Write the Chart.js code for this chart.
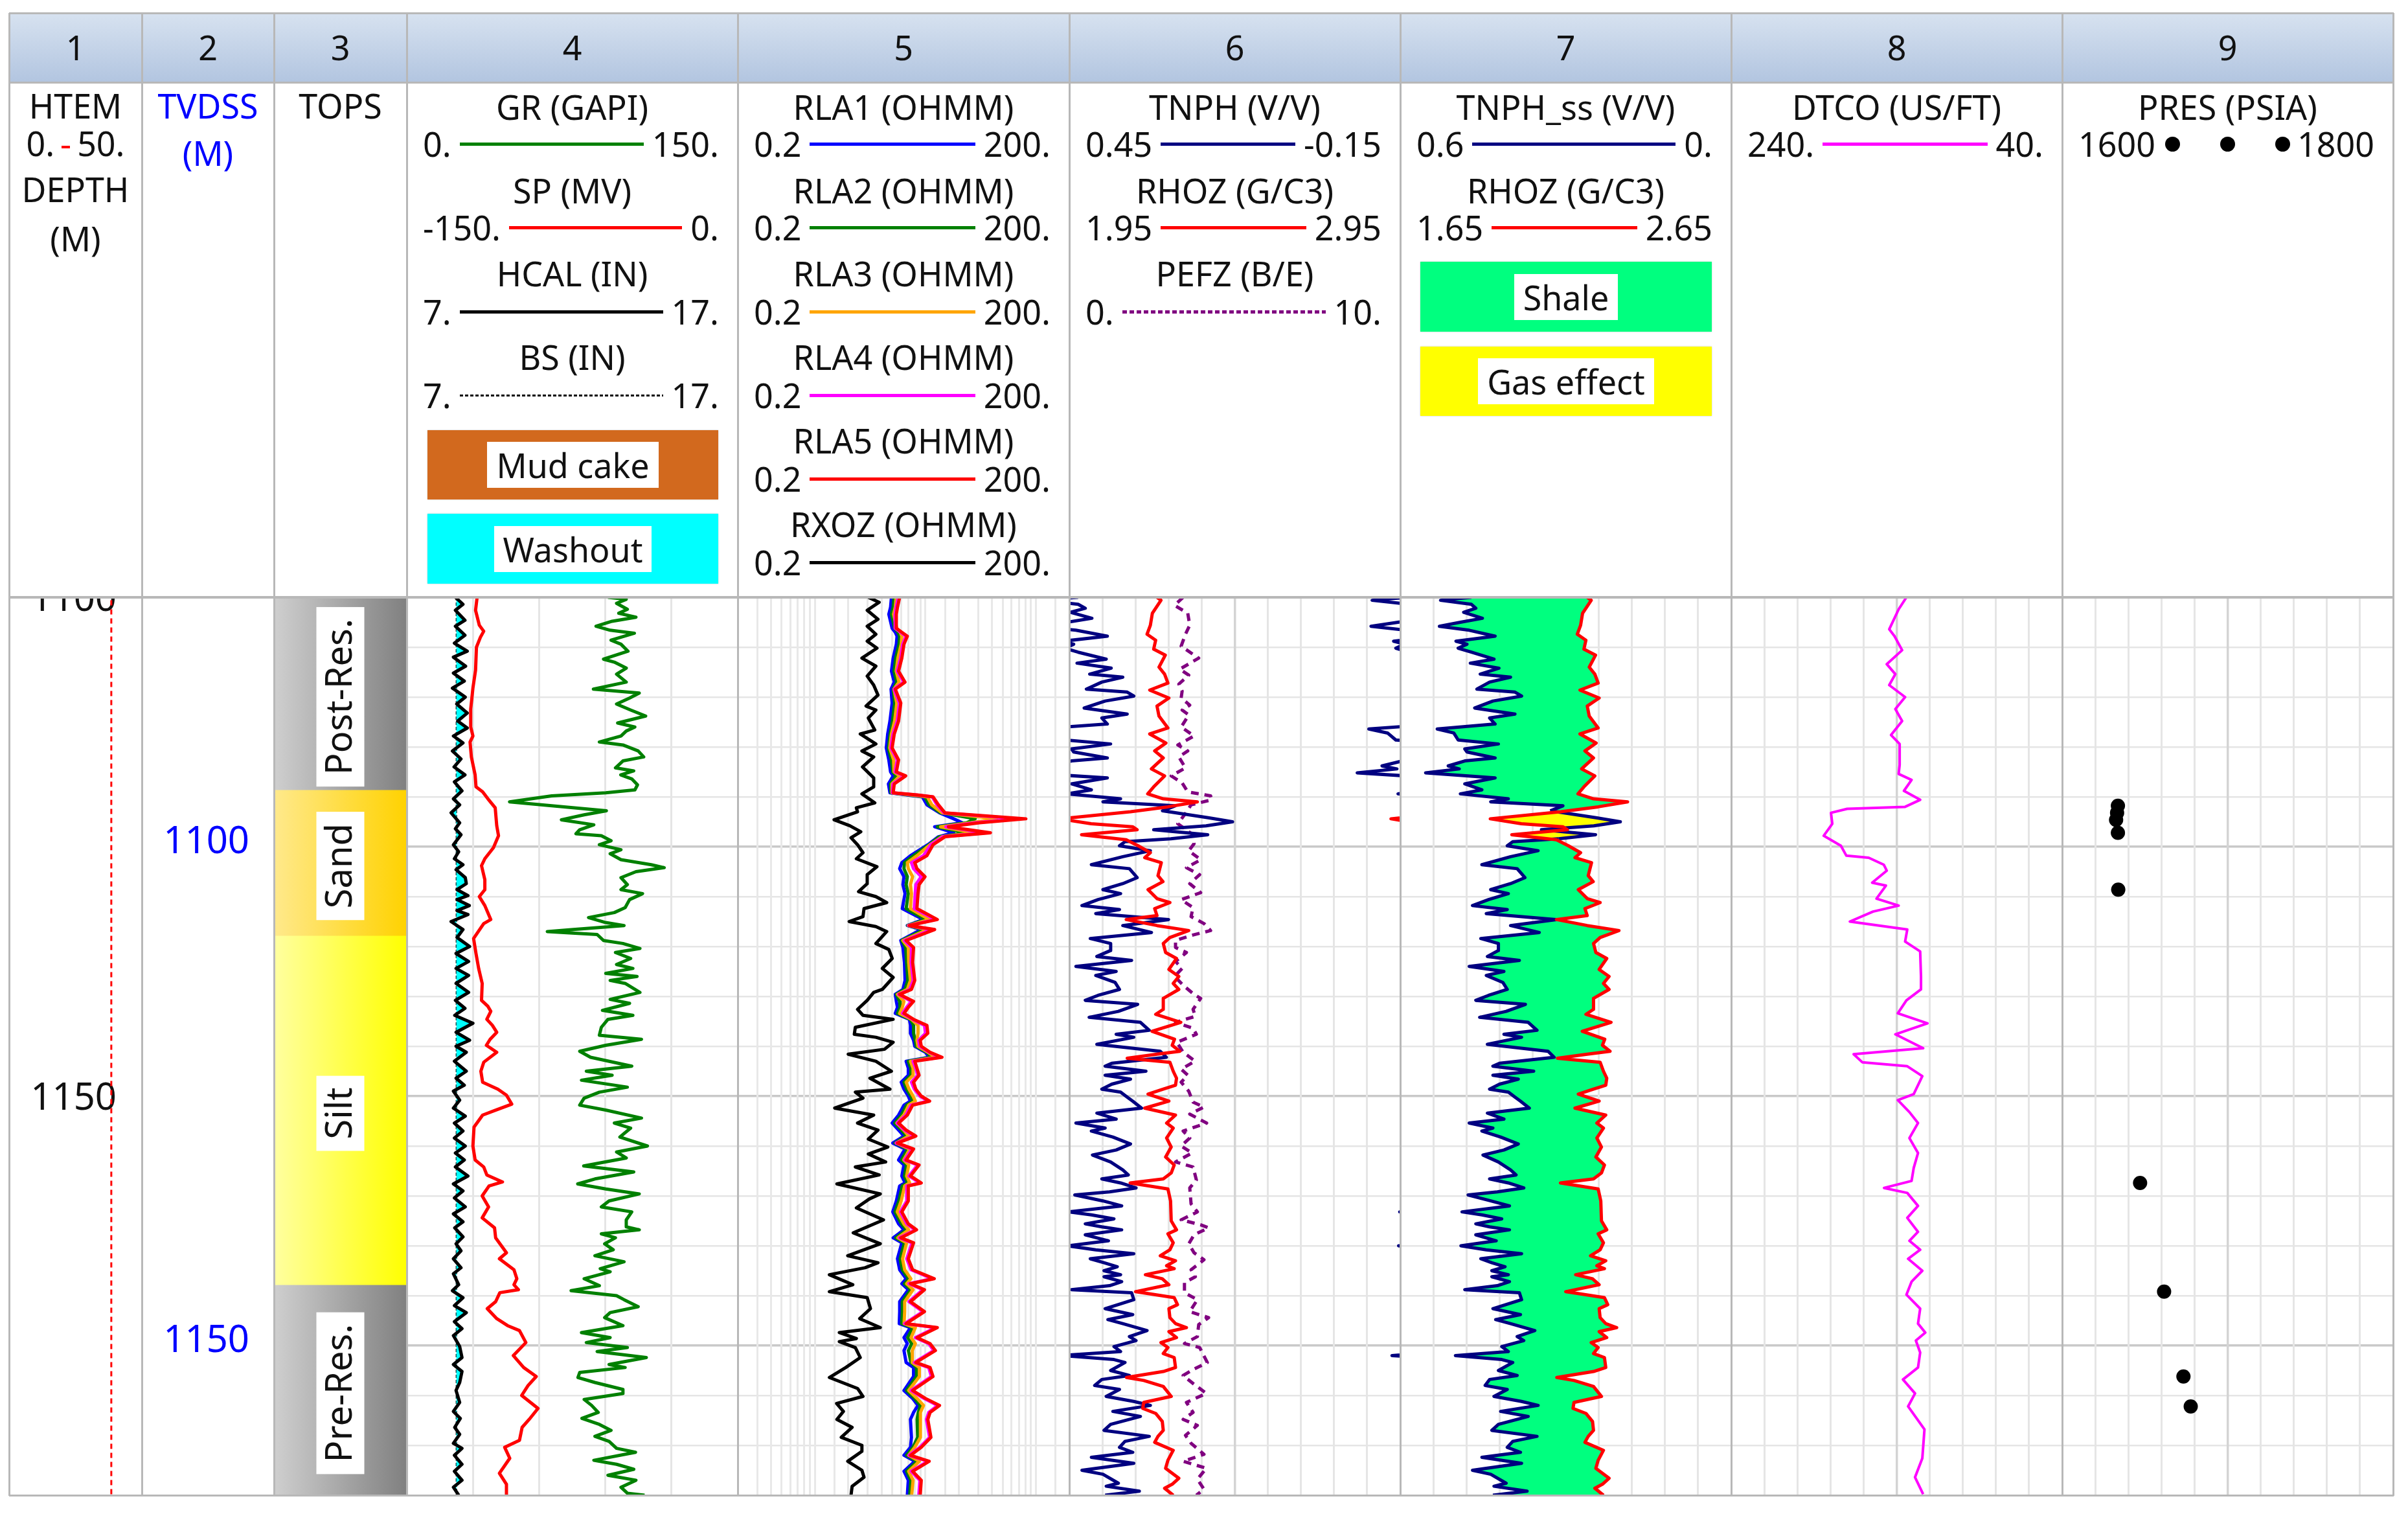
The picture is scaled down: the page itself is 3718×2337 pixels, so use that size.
<!DOCTYPE html>
<html lang="en">
<head>
<meta charset="UTF-8">
<title>Well log</title>
<script src="https://cdn.jsdelivr.net/npm/chart.js"></script>
<style>
    html, body { margin: 0; padding: 0; background: white; }
    #page { position: relative; width: 3718px; height: 2337px; overflow: hidden; background: white; font-family: "Noto Sans", sans-serif; font-size: 52px; color: #111; }
    #page canvas { position: absolute; top: 922px; }
    .band { position: absolute; top: 20px; height: 107px; left: 14px; width: 3681px; background: linear-gradient(#d7e2f0, #b2c5e0); }
    .rule { position: absolute; background: #b8b8b8; z-index: 5; }
    .num, .title, .scale, .swatch { position: absolute; z-index: 6; }
    .num { top: 38px; height: 70px; line-height: 70px; text-align: center; }
    .title { height: 70px; line-height: 70px; text-align: center; white-space: nowrap; }
    .scale { height: 70px; line-height: 70px; display: flex; align-items: center; white-space: nowrap; box-sizing: border-box; padding: 0 29px 0 25px; }
    .scale .sample { flex: 1; margin: 0 13px; }
    .scale .dots { flex: 1; margin: 0 11px 0 15px; display: flex; justify-content: space-between; }
    .scale .dots i { width: 23px; height: 23px; border-radius: 50%; background: black; }
    .swatch { display: flex; align-items: center; justify-content: center; box-shadow: 0 0 2px #c8c8c8; }
    .swatch span { background: white; height: 71px; line-height: 71px; padding: 0 14px; }
    .tick { display: inline-block; width: 13px; height: 4px; background: red; margin: 0 11px; vertical-align: middle; }
</style>
</head>
<body>
<div id="page"></div>
<script>
// curves, depth in metres then value in the unit of the legend
const grDepth = [1100,1100.2,1100.6,1101.2,1101.6,1102,1102.4,1102.9,1103.3,1103.6,1104.3,1104.7,1105.4,1106.2,1106.5,1107.1,1107.7,1108.5,1109.2,1109.6,1110.1,1110.7,1111.3,1111.9,1112.6,1113,1113.4,1113.9,1114.5,1114.8,1115.4,1116,1116.4,1117.1,1117.4,1117.8,1118.2,1118.8,1119.3,1119.6,1119.9,1120.5,1120.9,1121.4,1121.8,1122.3,1122.8,1123.3,1123.7,1123.9,1124.4,1124.8,1125.3,1125.7,1126.3,1126.8,1127.1,1127.5,1128.1,1128.8,1129.3,1129.7,1130.3,1131.1,1131.6,1132.1,1132.6,1132.9,1133.3,1133.5,1133.8,1134.4,1134.7,1135.2,1135.6,1136.2,1136.8,1137.2,1137.7,1138,1138.4,1138.7,1139.6,1140.3,1140.7,1141.4,1141.9,1142.3,1143.1,1143.9,1144.3,1144.9,1145.5,1146.1,1147,1147.5,1147.9,1148.4,1149.1,1149.6,1150.2,1150.9,1151.4,1152.2,1152.7,1153.2,1154.1,1155,1155.6,1156.2,1157,1157.6,1158.3,1158.8,1159.3,1159.8,1160.5,1161.1,1161.6,1162.4,1163.1,1163.4,1163.8,1164.2,1164.8,1165.4,1166,1166.6,1167.3,1167.6,1168.3,1169,1169.5,1170,1170.4,1171.1,1171.7,1172.2,1173,1173.7,1174.2,1174.7,1175.2,1175.6,1176.2,1176.9,1177.2,1177.7,1178.2,1178.7,1179.4,1179.8,1180.4,1181,1181.7,1182.3,1182.9,1183.5,1184.1,1184.6,1185.3,1185.7,1186.5,1186.9,1187.4,1188,1188.5,1189.2,1189.8,1190];
const grValues = [91.2,99.5,95.1,100,96.1,103.9,93.1,85.8,92.2,103.2,92.6,97.1,100.3,89.2,94.1,99.5,95.1,99.5,84.6,105.4,101,95.1,101.5,108.3,95.6,103.4,99.5,97.1,87.3,98,104.9,107.4,98,94.6,102.9,97,102,104.6,103.4,90.2,65.7,46.6,65.7,90.5,80.4,70.1,84.8,78.4,76.7,88.2,92.6,87.3,97.1,92.2,97.1,110.8,116.7,103.9,97.1,100,97.1,106.9,101,99,94.1,82.4,90.2,98.5,75.5,63.7,86.3,89.2,98,105.7,94.6,101.5,95.1,102.5,90.2,104.4,92.2,99,105.7,92.2,101,88.7,102.5,91.2,88.2,87.3,106.4,90.2,78.4,83.3,102,81.4,93.1,79.2,100,87.3,80.4,78.4,90.2,106.4,94.1,101.5,96.6,109.1,95.1,99.5,80.2,102.9,85.3,77.5,90.2,105.4,91.7,88.2,102,99.5,99.5,105.4,88.2,94.6,89.7,93.6,85.3,98.5,87.7,92.2,80.4,87.3,74.5,95.1,98.5,104.9,92.2,89.7,98,79.2,92.2,81.4,100,86.3,108.6,91.7,99,78.4,77.6,85.3,98,98,80.4,83.8,86.8,79.4,87.3,92.6,85.3,91.7,95.1,103.7,84.8,95.1,102.9,91.2,103.9,97.1,100,107.8];

const spDepth = [1100,1101.3,1102.8,1103.4,1104,1105,1107.3,1109.1,1111.2,1113,1113.9,1114.5,1116,1117.8,1119,1119.5,1120.2,1121.1,1122.9,1123.9,1125.1,1126.2,1126.9,1128.3,1129.3,1130,1130.9,1132.3,1132.7,1134.2,1135.7,1137.2,1138.7,1140.4,1141,1141.5,1142.3,1142.9,1143.6,1144.3,1144.9,1145.6,1146.6,1147.5,1148.6,1149.3,1149.9,1150.8,1151.4,1151.9,1153.1,1155,1156.4,1157.1,1157.9,1158.6,1159,1160,1161.1,1162.2,1163.2,1164.2,1165.7,1166.3,1167.4,1168.3,1168.9,1169.4,1169.7,1170.6,1171.3,1172.3,1173,1173.5,1174.7,1176,1177.2,1178.1,1179,1180,1181.3,1182.4,1183.2,1184.5,1185.2,1186.3,1187.8,1188.9,1190];
const spValues = [-118.1,-118.8,-117.1,-115.1,-116.6,-118.4,-118.8,-120,-121,-121,-120,-121.3,-120.7,-119,-118.6,-115.6,-113.2,-109.9,-109.2,-108.4,-110.7,-114.6,-116.1,-114.6,-114.6,-117.1,-114.6,-111.9,-115.1,-119.7,-118.6,-117.4,-115.8,-116.1,-113.2,-111.9,-113.7,-111.2,-109.2,-112.2,-113.9,-109.2,-115.1,-116.4,-115.6,-108.7,-104.8,-102.4,-109.7,-115.6,-119.5,-120,-119,-115.1,-113.7,-106.6,-112.7,-115.8,-112.9,-115.8,-110.2,-109.7,-104.8,-108,-101.4,-100.1,-101.4,-99.4,-107.8,-109.7,-113.5,-109.2,-104.3,-98.9,-96,-101.7,-97,-91.3,-95,-97.9,-90.5,-94.5,-97.7,-98.9,-105.6,-103.3,-108,-104.8,-104.8];

const hcalDepth = [1100,1100.7,1101.3,1102.3,1102.9,1103.8,1104.6,1105.4,1106,1106.9,1107.6,1108.4,1109.1,1110,1110.7,1111.6,1112.4,1113.1,1113.9,1114.6,1115.4,1116.2,1117,1117.8,1118.5,1119.4,1120.2,1120.8,1121.6,1122.6,1123.2,1123.8,1124.8,1125.5,1126.2,1126.8,1127.3,1128.1,1128.7,1129.3,1129.9,1130.3,1130.9,1131.4,1131.8,1132.5,1133.3,1134.1,1135,1135.7,1136.5,1137.2,1137.9,1138.7,1139.6,1140.4,1141.2,1141.9,1142.7,1143.6,1144.4,1145,1145.6,1146.5,1147.5,1148.2,1148.9,1149.5,1150.4,1151.2,1152,1152.7,1153.5,1154.2,1155,1155.7,1156.4,1157.1,1158,1158.8,1159.5,1160.2,1161.1,1161.8,1162.6,1163.2,1164.1,1164.8,1165.5,1166.3,1167.2,1167.8,1168.9,1169.5,1170.2,1171,1171.7,1172.6,1173.3,1174,1175.1,1176.2,1176.9,1177.6,1178.7,1179.5,1180.7,1181.6,1182.3,1183.2,1183.9,1184.8,1185.3,1186,1186.9,1187.6,1188.5,1189.2,1190];
const hcalValues = [8.47,8.7,8.47,8.76,8.47,8.76,8.44,8.83,8.41,8.78,8.41,8.74,8.38,8.77,8.51,8.83,8.54,8.83,8.41,8.7,8.38,8.64,8.43,8.76,8.44,8.67,8.41,8.6,8.34,8.6,8.47,8.64,8.41,8.57,8.44,8.7,8.49,8.77,8.8,8.52,8.85,8.52,8.89,8.52,8.85,8.34,8.7,8.52,8.9,8.49,8.87,8.49,8.87,8.49,8.87,8.47,8.76,8.45,9.0,8.49,8.9,8.49,8.8,8.44,8.8,8.49,8.74,8.41,8.6,8.41,8.77,8.44,8.7,8.44,8.77,8.47,8.74,8.47,8.85,8.41,8.7,8.44,8.77,8.41,8.7,8.45,8.7,8.49,8.64,8.41,8.64,8.41,8.57,8.38,8.7,8.44,8.8,8.44,8.67,8.41,8.6,8.67,8.41,8.67,8.6,8.49,8.6,8.41,8.62,8.45,8.6,8.41,8.67,8.44,8.67,8.44,8.67,8.41,8.57];

const bsDepth = [1100, 1190];
const bsValues = [8.5, 8.5];

const rlaDepth = [1100,1101,1101.7,1103.1,1103.5,1103.9,1104.7,1106.1,1107.4,1108.5,1109.2,1110.6,1112.4,1113.7,1115.1,1116.3,1117.5,1117.9,1118.7,1119.6,1119.8,1120,1120.8,1121.6,1122.2,1122.6,1123,1123.6,1124,1124.8,1125.9,1126.6,1127.2,1128,1128.8,1129.7,1131.2,1132.3,1132.9,1133.3,1134.4,1135.1,1136.6,1138.4,1139.3,1139.8,1140.5,1141.1,1141.7,1142.3,1142.9,1143.7,1144.4,1145,1145.6,1146.1,1146.5,1147.2,1147.9,1148.6,1149.3,1150,1150.5,1150.9,1151.9,1152.7,1153.4,1154,1154.7,1155.3,1156.4,1156.9,1158,1158.7,1159,1160.5,1161.6,1162.8,1163.4,1164.2,1164.7,1166.3,1167.4,1168.3,1168.8,1169.4,1170.6,1171.6,1172.8,1173.2,1174.2,1174.8,1175.5,1176.7,1177.2,1178.1,1179.5,1180.3,1181,1181.7,1182.4,1184.2,1185.2,1186,1186.6,1187.6,1188.5,1190];
const rla1Values = [4.92,4.83,4.66,4.99,5.33,5.53,5.45,5.1,4.92,5.22,4.88,4.99,4.77,4.55,4.42,4.66,4.83,5.1,4.62,4.77,6.68,9.37,10.3,13.4,18,21.5,12.1,18,13.1,10.5,7.31,6.11,5.84,6.39,6.25,6.53,6.17,9.58,6.85,9.16,5.98,6.25,6.45,6.53,6.25,5.33,5.45,5.58,5.33,7.15,7.31,7.31,7.8,8,10,10.8,6.68,6.99,6.99,6.03,6.39,6.99,7.31,6.39,5.71,4.99,5.71,6.39,5.06,6.53,5.71,6.39,6.11,6.53,5.84,5.45,5.06,5.71,6.39,5.1,6.11,5.58,5.84,6.68,6.11,6.99,5.84,5.84,5.79,7.31,6.39,6.85,6.39,6.68,7.8,7.8,6.39,7.65,8.56,7.8,7.31,7.47,7.31,6.39,8,6.39,6.99,6.85];
const rla2Values = [5.19,5.1,4.92,5.26,5.63,5.84,5.76,5.38,5.19,5.5,5.1,5.26,5.03,4.79,4.62,4.92,5.06,5.45,4.83,4.88,7.05,9.91,10.8,13.7,28.2,23.6,12.8,23.6,13.4,10.8,7.8,6.45,6.39,6.85,6.68,6.99,6.68,10.1,6.92,9.79,6.11,6.62,6.75,6.92,6.53,5.45,5.84,5.9,5.58,7.31,7.8,7.8,8.08,8.25,10.3,11.4,6.99,7.38,7.38,6.39,6.75,7.38,7.72,6.75,6.06,5.26,6.06,6.75,5.3,6.9,6.06,6.75,6.45,6.9,6.17,5.76,5.3,6.06,6.75,5.38,6.45,5.9,6.17,7.05,6.45,7.38,6.17,6.17,6.1,7.72,6.9,7.5,7,7.4,8.3,8.3,6.75,8,9,8.6,8.4,8.5,7.7,6.75,8.4,6.75,7.38,7.2];
const rla3Values = [5.43,5.33,5.15,5.5,5.9,6.11,6.03,5.63,5.43,5.76,5.19,5.5,5.26,4.92,4.75,5.15,5.19,5.84,4.97,4.97,7.38,10.4,11.4,14.1,44.2,25.8,13.7,28.2,14.1,11,8.37,6.85,6.99,7.65,7.31,7.47,7.31,10.8,6.99,10.5,6.25,6.99,7.05,7.31,6.85,5.58,6.39,6.17,5.84,7.47,8.56,8.56,8.37,8.56,10.5,12.3,7.31,7.72,7.72,6.68,7.1,7.72,8.1,7.05,6.36,5.5,6.36,7.05,5.45,7.2,6.36,7.05,6.75,7.2,6.48,6.03,5.55,6.36,7.05,5.63,6.75,6.2,6.48,7.38,6.75,7.72,6.48,6.48,6.4,8.1,7.4,8.1,7.6,7.6,8.8,8.8,7.05,8.4,9.6,9,9,9,8,7.05,8.8,7.05,7.72,7.5];
const rla4Values = [5.68,5.43,5.31,5.31,5.95,6.65,6.22,5.95,5.55,6.36,5.19,5.81,5.55,5.08,4.86,5.55,5.31,6.45,5.08,5.01,8.15,11.5,12.7,14.7,69.2,28.2,15.3,35.2,14.4,11.2,9.58,7.47,7.8,9.16,8.18,8.08,7.92,12.3,7.05,11.4,6.45,7.47,7.41,7.75,7.21,5.71,7.47,6.75,6.2,7.65,9.79,10,8.68,8.87,10.8,13.6,7.72,8.15,8.5,7.47,7.93,8.9,10.6,7.41,6.65,5.55,6.48,7.93,5.43,7.56,6.48,8.5,7.08,8.9,6.77,6.77,5.93,6.77,8.06,5.81,7.56,6.77,7.41,11.6,7.08,9.5,7.08,9.5,6.48,12.4,8.1,10.7,11.9,7.93,10.7,11.3,7.41,9.7,12.9,10.7,10.2,10.9,8.9,7.08,10.5,7.41,8.9,8.7];
const rla5Values = [5.84,5.58,5.45,5.45,6.11,6.85,6.39,6.11,5.71,6.53,5.33,5.98,5.71,5.22,4.99,5.71,5.45,6.62,5.22,5.1,8.37,11.7,13.1,15,81,30.8,16.1,38.7,15,11.7,10.3,8,8.37,9.9,8.75,8.56,8.37,12.8,7.15,12.1,6.68,7.8,7.65,8,7.47,5.84,7.8,6.99,6.39,7.8,10.3,10.5,8.96,9.16,11,14.1,8,8.37,8.75,7.8,8.18,9.16,10.9,7.65,6.85,5.71,6.68,8.18,5.58,7.8,6.68,8.75,7.31,9.16,6.99,6.99,6.11,6.99,8.3,5.98,7.8,6.99,7.65,12,7.31,9.79,7.31,9.79,6.68,12.8,8.37,11,12.3,8.18,11,11.7,7.65,10,13.4,11,10.5,11.2,9.16,7.31,10.8,7.65,9.16,8.96];

const rxozDepth = [1100,1100.5,1101.3,1102.2,1102.9,1103.7,1104.4,1105.1,1106.1,1106.9,1107.9,1108.8,1109.8,1110.9,1111.3,1112.1,1113.3,1113.7,1114.7,1115.4,1116,1117,1118.1,1119,1119.7,1120.6,1121.1,1121.5,1122.3,1122.9,1123.5,1124.1,1124.8,1125.6,1126.2,1127,1127.8,1128.7,1129.5,1130,1130.6,1131.2,1132,1132.5,1133,1133.5,1134.7,1135.3,1136.2,1137.2,1138.1,1139.3,1139.6,1140.4,1141.3,1141.9,1142.3,1143.1,1143.8,1144.1,1144.6,1145.3,1145.8,1146.5,1147.5,1148.2,1149.3,1149.6,1150.2,1151.2,1151.9,1152.7,1153.4,1154.3,1155.1,1155.8,1156.6,1157.1,1157.9,1158.8,1159.8,1160.3,1161.2,1162.4,1163.7,1164.8,1166,1166.7,1167.2,1167.9,1168.9,1169.6,1170.2,1171.3,1172.3,1173.2,1173.7,1174.3,1174.6,1175.2,1176.2,1177.2,1178.2,1179.3,1180.1,1180.8,1181.6,1182.4,1183.2,1184.2,1185,1185.6,1186.6,1187.5,1188.2,1189.1,1190];
const rxozValues = [3.04,3.81,2.97,3.72,2.97,3.56,2.97,3.64,2.66,3.56,2.97,3.4,3.72,2.9,3.56,3.04,3.48,2.57,3.56,2.66,3.4,2.69,3.4,3.4,2.66,3.48,2.37,2.43,1.49,2.07,2.6,2.12,2.43,2.72,2.37,3.64,2.97,2.97,2.48,3.56,4.46,2.78,2.72,2.04,3.56,4.46,3.56,4.66,5.0,4.07,5.1,4.07,3.4,2.97,2.43,2.72,5.1,2.32,2.27,3.56,5.1,4.26,2.0,3.56,4.92,3.14,4.77,2.32,2.72,1.51,3.4,2.43,3.72,3.04,4.56,3.04,4.36,2.32,3.81,1.58,3.9,3.11,2.37,4.17,2.22,3.9,1.98,3.72,2.84,1.35,2.2,1.35,2.97,3.18,2.54,3.9,1.66,2.37,1.66,2.32,2.57,1.9,1.35,2.43,2.72,1.57,1.81,1.58,2.17,1.73,2.66,2.66,1.98,2.66,2.78,2.17,2.12];

const neutronDepth = [1100,1100.3,1100.7,1101.1,1101.5,1102.1,1102.5,1102.9,1103.3,1103.9,1104.4,1104.7,1105.1,1105.5,1106.2,1106.6,1107.1,1107.7,1108,1108.5,1109.2,1109.5,1109.9,1110.4,1111.1,1111.7,1112.1,1112.7,1113.2,1113.6,1114.3,1114.7,1115.2,1115.5,1116.1,1116.4,1116.9,1117.2,1117.6,1118.1,1118.7,1119.3,1119.7,1120.2,1120.5,1120.9,1121.4,1122.1,1122.5,1122.9,1123.3,1123.8,1124.2,1124.5,1124.9,1125.4,1126,1126.8,1127.2,1128.1,1128.7,1129.3,1129.7,1130.3,1130.9,1131.3,1131.7,1132.3,1132.9,1133.6,1134.2,1134.7,1135.4,1136,1136.4,1137,1137.5,1137.9,1138.6,1139.3,1139.9,1140.4,1140.8,1141.5,1142.1,1142.6,1143.4,1143.8,1144.1,1144.8,1145.5,1146.1,1146.7,1147,1147.5,1147.9,1148.3,1148.8,1149.3,1149.6,1150.1,1150.5,1151.2,1151.7,1152.3,1152.7,1153.2,1153.5,1154.1,1154.8,1155.4,1155.9,1156.6,1157.4,1157.9,1158.3,1158.7,1159.2,1159.6,1159.9,1160.5,1161,1161.6,1161.9,1162.3,1162.8,1163.1,1163.4,1163.9,1164.5,1165,1165.4,1165.8,1166.3,1166.7,1167.1,1167.5,1167.9,1168.1,1168.6,1169,1169.4,1169.7,1170.4,1171.3,1171.9,1172.4,1172.8,1173.5,1174.1,1174.5,1175.1,1175.6,1176,1176.4,1176.7,1177.5,1178,1178.4,1179,1179.4,1180.1,1180.6,1181,1181.6,1182.1,1182.9,1183.5,1184.1,1184.6,1185.2,1185.7,1186.2,1186.8,1187.5,1187.9,1188.8,1189.1,1189.6,1190];
const tnphSsValues = [0.471,0.527,0.471,0.463,0.485,0.451,0.491,0.529,0.475,0.428,0.499,0.479,0.495,0.471,0.43,0.473,0.421,0.455,0.4,0.438,0.461,0.392,0.38,0.432,0.465,0.392,0.438,0.428,0.533,0.503,0.495,0.422,0.483,0.479,0.428,0.483,0.513,0.493,0.554,0.428,0.483,0.452,0.491,0.404,0.436,0.305,0.328,0.245,0.201,0.249,0.344,0.246,0.313,0.396,0.406,0.35,0.4,0.452,0.388,0.374,0.4,0.436,0.404,0.44,0.469,0.406,0.444,0.317,0.4,0.348,0.454,0.422,0.422,0.442,0.384,0.475,0.412,0.444,0.414,0.406,0.44,0.463,0.373,0.408,0.456,0.368,0.352,0.412,0.38,0.442,0.332,0.321,0.42,0.432,0.358,0.432,0.386,0.42,0.438,0.404,0.392,0.382,0.366,0.442,0.412,0.475,0.432,0.452,0.418,0.386,0.412,0.45,0.422,0.4,0.39,0.438,0.404,0.376,0.424,0.477,0.436,0.402,0.488,0.452,0.416,0.463,0.438,0.402,0.463,0.426,0.49,0.444,0.38,0.454,0.434,0.41,0.434,0.404,0.434,0.402,0.424,0.483,0.384,0.38,0.432,0.382,0.427,0.4,0.356,0.388,0.376,0.416,0.404,0.5,0.416,0.396,0.422,0.388,0.438,0.446,0.406,0.43,0.38,0.35,0.418,0.368,0.422,0.434,0.352,0.396,0.406,0.382,0.452,0.38,0.469,0.436,0.408,0.43,0.37,0.432];
const tnphValues = [0.434,0.501,0.434,0.421,0.448,0.409,0.454,0.503,0.438,0.381,0.462,0.442,0.458,0.434,0.383,0.436,0.374,0.413,0.353,0.391,0.419,0.345,0.333,0.385,0.423,0.345,0.391,0.381,0.507,0.473,0.458,0.375,0.446,0.442,0.381,0.446,0.483,0.456,0.528,0.381,0.446,0.41,0.454,0.357,0.389,0.258,0.281,0.198,0.154,0.202,0.297,0.199,0.266,0.349,0.359,0.303,0.353,0.41,0.341,0.327,0.353,0.389,0.357,0.398,0.427,0.359,0.402,0.27,0.353,0.301,0.412,0.375,0.375,0.4,0.337,0.438,0.365,0.402,0.367,0.359,0.398,0.421,0.326,0.361,0.414,0.321,0.305,0.365,0.333,0.4,0.285,0.274,0.373,0.385,0.311,0.385,0.339,0.373,0.391,0.357,0.345,0.335,0.319,0.4,0.365,0.438,0.385,0.41,0.371,0.339,0.365,0.408,0.375,0.353,0.343,0.391,0.357,0.329,0.377,0.44,0.389,0.355,0.451,0.41,0.369,0.421,0.391,0.355,0.421,0.379,0.453,0.402,0.333,0.412,0.387,0.363,0.387,0.357,0.387,0.355,0.377,0.446,0.337,0.333,0.385,0.335,0.38,0.353,0.309,0.341,0.329,0.369,0.357,0.465,0.369,0.349,0.375,0.341,0.391,0.404,0.359,0.383,0.333,0.303,0.371,0.321,0.375,0.387,0.305,0.349,0.359,0.335,0.41,0.333,0.427,0.389,0.361,0.383,0.323,0.385];

const rhozDepth = [1100,1100.3,1101.6,1102.8,1103.7,1104.3,1105.2,1105.8,1107,1107.7,1108.6,1109.3,1110.1,1110.9,1111.9,1113.1,1113.7,1114.6,1115.4,1116.1,1117.2,1117.9,1119,1119.7,1120.2,1120.5,1121,1121.5,1122.2,1122.7,1123,1123.3,1123.8,1124.3,1124.9,1125.6,1126.1,1126.6,1127.9,1128.5,1129.3,1130.2,1130.6,1131.2,1131.9,1132.3,1132.9,1133.4,1134.1,1134.7,1135.6,1136.2,1137.3,1138,1138.7,1139.3,1140.2,1141.3,1141.8,1142.6,1143.5,1144.3,1144.9,1145.5,1145.8,1146.2,1146.6,1147.5,1148.2,1148.9,1149.3,1149.8,1150.5,1151.2,1151.9,1152.7,1153.2,1154.2,1155.1,1156.1,1156.9,1157.7,1158.3,1158.7,1159.3,1160.5,1162.5,1163.4,1163.8,1164.7,1165.4,1166,1166.5,1167,1167.3,1167.9,1168.3,1168.9,1169.6,1170.2,1170.9,1171.3,1172.2,1172.8,1173.2,1173.6,1174.2,1174.7,1175.2,1175.8,1176.2,1177.2,1177.6,1178.2,1178.5,1179.1,1180.1,1180.7,1181.3,1181.8,1182.6,1183.5,1184.1,1184.7,1185.5,1186.5,1187.3,1188.3,1188.9,1189.3,1190];
const rhozValues = [2.215,2.227,2.201,2.195,2.185,2.211,2.205,2.24,2.221,2.238,2.248,2.193,2.251,2.215,2.221,2.248,2.193,2.242,2.208,2.234,2.198,2.238,2.205,2.187,2.234,2.337,2.248,2.135,1.922,2.016,2.142,2.155,1.987,2.122,2.158,2.195,2.178,2.228,2.218,2.233,2.188,2.215,2.254,2.208,2.215,2.122,2.215,2.311,2.254,2.234,2.241,2.274,2.251,2.281,2.264,2.281,2.234,2.234,2.211,2.287,2.2,2.268,2.261,2.284,2.215,2.125,2.254,2.264,2.274,2.271,2.234,2.188,2.251,2.178,2.271,2.244,2.264,2.244,2.258,2.241,2.267,2.258,2.234,2.134,2.248,2.256,2.258,2.274,2.248,2.264,2.254,2.225,2.271,2.244,2.267,2.18,2.231,2.251,2.15,2.267,2.277,2.251,2.254,2.271,2.304,2.251,2.274,2.227,2.248,2.234,2.267,2.271,2.234,2.123,2.175,2.234,2.258,2.175,2.172,2.211,2.231,2.234,2.218,2.208,2.264,2.248,2.241,2.281,2.261,2.238,2.264];

const pefzDepth = [1100,1100.8,1101.6,1102.8,1103.7,1104.9,1106.1,1107.2,1107.8,1108.7,1109.4,1110.1,1110.8,1111.3,1111.8,1113,1113.9,1114.8,1115.4,1116,1117.1,1117.9,1118.6,1119.5,1119.9,1120.3,1120.8,1121.8,1122.7,1123.8,1124.7,1125.4,1126.3,1127.1,1127.8,1128.7,1129.6,1130.3,1131.1,1132,1132.7,1133.4,1133.9,1134.4,1135.1,1135.6,1136.5,1137.2,1138,1139,1139.8,1140.2,1141.3,1142,1142.6,1143.2,1143.8,1144.6,1145.6,1146.5,1147.3,1147.9,1148.6,1149.5,1150.6,1151.1,1151.8,1152.7,1153.5,1154.2,1155,1155.7,1156.6,1157.1,1158.4,1159.2,1160.8,1161.6,1162.4,1162.9,1163.2,1163.9,1164.8,1165.7,1166.4,1167.4,1168.1,1168.7,1169.7,1170.4,1171.6,1172.2,1172.9,1174.1,1174.8,1175.2,1176.7,1177.4,1178,1178.8,1179.8,1180.7,1181.7,1182.4,1183,1184,1184.8,1185.9,1186.6,1187.3,1188.4,1189.4,1190];
const pefzValues = [3.44,3.18,3.58,3.64,3.51,3.38,3.91,3.34,3.61,3.31,3.41,3.38,3.64,3.41,3.61,3.38,3.77,3.28,3.58,3.31,3.51,3.08,3.41,3.58,4.27,4.3,3.68,3.48,3.28,3.74,3.77,3.61,3.97,3.54,3.94,3.64,3.97,3.38,3.74,3.68,4.07,4.27,3.68,3.21,3.21,3.54,3.21,3.41,3.18,3.48,3.77,3.97,3.74,3.81,3.21,3.74,3.84,3.25,3.44,3.8,3.38,3.58,3.38,3.61,3.74,4.07,3.64,4.15,3.44,3.64,3.38,3.71,3.21,3.74,3.84,3.64,3.68,3.87,3.38,3.97,4.21,3.77,3.61,3.77,4.07,3.68,3.81,3.48,3.48,3.87,3.64,4.21,3.91,3.87,3.48,3.94,4.17,3.74,3.44,3.74,4.14,3.54,3.74,3.44,3.87,3.51,3.68,4.07,3.44,4.14,3.87,4.07,3.84];

const dtcoDepth = [1100,1101.2,1103.2,1103.9,1105.3,1106.7,1107.7,1108.8,1110,1111.2,1112.4,1113.8,1114.7,1116.8,1117.7,1118.3,1119.4,1120.3,1121,1121.2,1121.6,1122.7,1123.9,1124.9,1125.9,1126.1,1126.8,1127.4,1128.6,1128.9,1130.2,1130.9,1131.5,1132.5,1133.3,1134.5,1135.5,1138,1139.3,1140.4,1141.7,1142.7,1143.8,1145.2,1145.8,1146.6,1147,1148,1149.8,1150.4,1151.6,1152.7,1154.2,1155.7,1157.2,1158.5,1159.2,1159.7,1161,1162.2,1163.6,1164.5,1165.4,1166.3,1167.5,1168.6,1169.9,1171.3,1172.8,1173.7,1174.5,1175.7,1177.2,1178.4,1179.8,1181.1,1183.4,1186.3,1188.2,1189.9];
const dtcoValues = [134.1,138.8,144.5,141.3,136.7,146,140.8,144.5,134.9,140.8,136.7,143.4,138.2,138.2,138.8,131,135.6,125.8,134.9,169.9,179.7,178.9,184.1,173.7,170.4,156.9,147.8,146,154.8,146.5,152.2,138.8,154.3,168.3,133.6,134.9,125.8,125.3,125.3,134.1,139.3,121.4,140.8,124,166,160.8,133.6,124.5,129.7,139.3,132.3,127.1,132.3,127.1,129.7,131,147.6,133.6,127.1,133.6,127.1,132.3,125.8,133.1,124.5,131,134.1,125.8,127.1,122.7,128.4,125.8,127.1,136.2,128.9,133.1,123.2,124.5,128.9,124];

const presDepth = [1120.9, 1121.6, 1122.3, 1123.6, 1129.3, 1158.7, 1169.6, 1178.1, 1181.1];
const presValues = [1633.7, 1633.2, 1632.6, 1633.7, 1633.9, 1647.1, 1661.6, 1673.3, 1677.7];

const htemDepth = [1100, 1190];
const htemValues = [38.5, 38.5];

// tops track and the crossover interval of track 7
const zoneNames = ["Post-Res.", "Sand", "Silt", "Pre-Res."];
const zoneTops = [1100, 1119.3, 1133.9, 1168.9];
const zoneBases = [1119.3, 1133.9, 1168.9, 1190];
const gasTops = [1121.4];
const gasBases = [1124.2];

const depthLabels = [1100, 1150];
const tvdssLabels = [1100, 1150];

const edges = [14, 219, 423, 628, 1139, 1651, 2162, 2673, 3184, 3695];
const TOP = 922, BOTTOM = 2308;
const FONT = '"Noto Sans", sans-serif';
const page = document.getElementById("page");

function pts(depths, values) {
    return depths.map((d, i) => ({ x: values[i], y: d }));
}

function curve(depths, values, axis, color, extra) {
    return Object.assign({
        data: pts(depths, values), xAxisID: axis, yAxisID: "y",
        borderColor: color, borderWidth: 5, pointRadius: 0,
        borderJoinStyle: "round", fill: false
    }, extra || {});
}

function depthAxis() {
    return {
        type: "linear", reverse: true, min: 1100, max: 1190,
        ticks: { display: false, stepSize: 5 }, border: { display: false },
        grid: {
            drawTicks: false,
            color: c => c.tick && c.tick.value % 25 === 0 ? "#c9c9c9" : "#e5e5e5",
            lineWidth: c => c.tick && c.tick.value % 25 === 0 ? 3.5 : 2.5
        }
    };
}

function hiddenAxis(min, max, reverse) {
    return { type: "linear", display: false, min: min, max: max, reverse: !!reverse };
}

function gridAxis(min, max, reverse, count) {
    return {
        type: "linear", min: min, max: max, reverse: !!reverse,
        ticks: { display: false, count: count || 11 }, border: { display: false },
        grid: {
            drawTicks: false,
            color: c => c.index === 5 && !count ? "#d4d4d4" : "#e5e5e5",
            lineWidth: c => c.index === 5 && !count ? 3.5 : 3
        }
    };
}

// each track is its own chart, placed between two column edges
function makeTrack(n, config) {
    const canvas = document.createElement("canvas");
    const w = edges[n] - edges[n - 1];
    canvas.width = w;
    canvas.height = BOTTOM - TOP;
    canvas.style.left = edges[n - 1] + "px";
    canvas.style.width = w + "px";
    canvas.style.height = (BOTTOM - TOP) + "px";
    page.appendChild(canvas);
    config.options = Object.assign({
        responsive: false, animation: false, devicePixelRatio: 1, indexAxis: "y",
        layout: { padding: 0, autoPadding: false },
        plugins: { legend: { display: false }, tooltip: { enabled: false }, title: { display: false } }
    }, config.options);
    return new Chart(canvas, config);
}

function labelAxis(min, max, labels, color, pad) {
    return {
        type: "linear", position: "right", reverse: true, min: min, max: max,
        afterBuildTicks: a => { a.ticks = labels.map(v => ({ value: v })); },
        ticks: { mirror: true, padding: pad, color: color, font: { family: FONT, size: 58 }, callback: v => String(v) },
        border: { display: false }, grid: { display: false, drawTicks: false }
    };
}

// track 1 HTEM and depth labels, the labels sit a touch below their depth
makeTrack(1, {
    type: "line",
    data: { datasets: [curve(htemDepth, htemValues, "xHtem", "red", { borderWidth: 3, borderDash: [8, 6] })] },
    options: { scales: { y: labelAxis(1099.7, 1189.7, depthLabels, "#111", -39), xHtem: hiddenAxis(0, 50) } }
});

// track 2 TVDSS labels, they sit a little above the heavy lines
makeTrack(2, {
    type: "line",
    data: { datasets: [] },
    options: { scales: { y: labelAxis(1075.4, 1165.4, tvdssLabels, "#0000ff", -38), x: hiddenAxis(0, 1) } }
});

// track 3 tops
const zoneLeft = ["#cfcfcf", "#ffe98c", "#ffffa0", "#cfcfcf"];
const zoneRight = ["#808080", "#ffd200", "#ffff00", "#808080"];

const zoneLabels = {
    id: "zoneLabels",
    afterDatasetsDraw(chart) {
        const c = chart.ctx, y = chart.scales.y;
        c.save();
        c.font = "56px " + FONT;
        c.textAlign = "center";
        c.textBaseline = "middle";
        zoneNames.forEach((name, i) => {
            const mid = y.getPixelForValue((zoneTops[i] + zoneBases[i]) / 2) + 5;
            const len = c.measureText(name).width + 36;
            c.save();
            c.translate(chart.width / 2, mid);
            c.rotate(-Math.PI / 2);
            c.fillStyle = "white";
            c.fillRect(-len / 2, -37, len, 74);
            c.fillStyle = "#111";
            c.fillText(name, 0, 2);
            c.restore();
        });
        c.restore();
    }
};

makeTrack(3, {
    type: "bar",
    plugins: [zoneLabels],
    data: {
        labels: ["TOPS"],
        datasets: zoneNames.map((name, i) => ({
            label: name,
            data: [[zoneTops[i], zoneBases[i]]],
            grouped: false, barPercentage: 1, categoryPercentage: 1, borderWidth: 0,
            backgroundColor: ctx => {
                const g = ctx.chart.ctx.createLinearGradient(0, 0, ctx.chart.width, 0);
                g.addColorStop(0, zoneLeft[i]);
                g.addColorStop(1, zoneRight[i]);
                return g;
            }
        }))
    },
    options: {
        indexAxis: "x",
        scales: {
            x: { type: "category", display: false },
            y: { type: "linear", display: false, reverse: true, min: 1100, max: 1190 }
        }
    }
});

// track 4 GR, SP, HCAL, BS
makeTrack(4, {
    type: "line",
    data: {
        datasets: [
            curve(grDepth, grValues, "xGr", "#008000", { order: 1 }),
            curve(spDepth, spValues, "xSp", "red", { order: 2 }),
            curve(hcalDepth, hcalValues, "xCal", "black", {
                order: 3, fill: 3, backgroundColor: "#00ffff",
                segment: { backgroundColor: c => (c.p0.parsed.x < 8.5 && c.p1.parsed.x < 8.5) ? "#d2691e" : "#00ffff" }
            }),
            curve(bsDepth, bsValues, "xCal", "black", { order: 4, borderWidth: 2, borderDash: [5, 3] })
        ]
    },
    options: { scales: { y: depthAxis(), xGr: gridAxis(0, 150, false, 6), xSp: hiddenAxis(-150, 0), xCal: hiddenAxis(7, 17) } }
});

// track 5 resistivity
makeTrack(5, {
    type: "line",
    data: {
        datasets: [
            curve(rxozDepth, rxozValues, "xRes", "black", { order: 6 }),
            curve(rlaDepth, rla1Values, "xRes", "#0000ff", { order: 5 }),
            curve(rlaDepth, rla2Values, "xRes", "#008000", { order: 4 }),
            curve(rlaDepth, rla3Values, "xRes", "#ffa500", { order: 3 }),
            curve(rlaDepth, rla4Values, "xRes", "#ff00ff", { order: 2 }),
            curve(rlaDepth, rla5Values, "xRes", "red", { order: 1 })
        ]
    },
    options: {
        scales: {
            y: depthAxis(),
            xRes: {
                type: "logarithmic", min: 0.2, max: 200,
                ticks: { display: false }, border: { display: false },
                grid: { drawTicks: false, color: "#e8e8e8", lineWidth: 3 }
            }
        }
    }
});

// track 6 wraps: a curve off the left edge comes back on the right, hence the shifted axes
makeTrack(6, {
    type: "line",
    data: {
        datasets: [
            curve(pefzDepth, pefzValues, "xPef", "#800080", { order: 3, borderDash: [12, 9] }),
            curve(neutronDepth, tnphValues, "xTnph", "#000080", { order: 2 }),
            curve(neutronDepth, tnphValues, "xTnphWrap", "#000080", { order: 2 }),
            curve(rhozDepth, rhozValues, "xRhoz", "red", { order: 1 }),
            curve(rhozDepth, rhozValues, "xRhozWrap", "red", { order: 1 })
        ]
    },
    options: {
        scales: {
            y: depthAxis(),
            xPef: gridAxis(0, 10),
            xTnph: hiddenAxis(-0.15, 0.45, true),
            xTnphWrap: hiddenAxis(0.45, 1.05, true),
            xRhoz: hiddenAxis(1.95, 2.95),
            xRhozWrap: hiddenAxis(0.95, 1.95)
        }
    }
});

// track 7 shale and gas effect between the two curves
makeTrack(7, {
    type: "line",
    data: {
        datasets: [
            curve(rhozDepth, rhozValues, "xRhoz7", "red", { order: 1 }),
            curve(neutronDepth, tnphSsValues, "xTnph7", "#000080", {
                order: 2, fill: 0, backgroundColor: "#00ff7f",
                segment: {
                    backgroundColor: c => gasTops.some((t, i) => c.p0.parsed.y >= t && c.p0.parsed.y < gasBases[i]) ? "#ffff00" : "#00ff7f"
                }
            })
        ]
    },
    options: { scales: { y: depthAxis(), xRhoz7: gridAxis(1.65, 2.65), xTnph7: hiddenAxis(0, 0.6, true) } }
});

// track 8 sonic
makeTrack(8, {
    type: "line",
    data: { datasets: [curve(dtcoDepth, dtcoValues, "xDt", "#ff00ff", { borderWidth: 4 })] },
    options: { scales: { y: depthAxis(), xDt: gridAxis(40, 240, true) } }
});

// track 9 pressure points
makeTrack(9, {
    type: "line",
    data: {
        datasets: [curve(presDepth, presValues, "xPres", "black", {
            showLine: false, pointRadius: 11, pointBackgroundColor: "black", pointBorderWidth: 0
        })]
    },
    options: { scales: { y: depthAxis(), xPres: gridAxis(1600, 1800) } }
});

// header, plain page text
function add(cls, css, html) {
    const d = document.createElement("div");
    d.className = cls;
    d.style.cssText = css;
    d.innerHTML = html || "";
    page.appendChild(d);
    return d;
}

add("band", "");
add("rule", "left:14px;top:19px;width:3682px;height:3px;");
add("rule", "left:14px;top:126px;width:3682px;height:3px;");
add("rule", "left:14px;top:920px;width:3682px;height:4px;");
add("rule", "left:14px;top:2307px;width:3682px;height:3px;");
edges.forEach(x => add("rule", "left:" + (x - 1.5) + "px;top:20px;width:3px;height:2289px;"));

function title(n, y, text, color) {
    add("title", "left:" + edges[n - 1] + "px;width:" + (edges[n] - edges[n - 1]) + "px;top:" + (y - 37) + "px;" + (color ? "color:" + color + ";" : ""), text);
}

const titleRows = [167, 296, 424, 553, 682, 811];
const scaleRows = [223, 352, 482, 611, 740, 869];

function legendRow(n, row, name, left, right, sample) {
    title(n, titleRows[row], name);
    add("scale", "left:" + edges[n - 1] + "px;width:" + (edges[n] - edges[n - 1]) + "px;top:" + (scaleRows[row] - 36) + "px;",
        "<span>" + left + "</span><div class='sample' style='" + sample + "'></div><span>" + right + "</span>");
}

function solid(color) {
    return "height:5px;background:" + color + ";";
}

function dashed(color, h, on, off) {
    return "height:" + h + "px;background:repeating-linear-gradient(90deg," + color + " 0 " + on + "px,transparent " + on + "px " + (on + off) + "px);";
}

function swatch(left, width, top, height, color, text) {
    add("swatch", "left:" + left + "px;width:" + width + "px;top:" + top + "px;height:" + height + "px;background:" + color + ";", "<span>" + text + "</span>");
}

for (let n = 1; n <= 9; n++) {
    add("num", "left:" + edges[n - 1] + "px;width:" + (edges[n] - edges[n - 1]) + "px;", String(n));
}

title(1, 165, "HTEM");
title(1, 223, "0.<span class='tick'></span>50.");
title(1, 294, "DEPTH");
title(1, 370, "(M)");
title(2, 165, "TVDSS", "#0000ff");
title(2, 238, "(M)", "#0000ff");
title(3, 165, "TOPS");

legendRow(4, 0, "GR (GAPI)", "0.", "150.", solid("#008000"));
legendRow(4, 1, "SP (MV)", "-150.", "0.", solid("red"));
legendRow(4, 2, "HCAL (IN)", "7.", "17.", solid("black"));
legendRow(4, 3, "BS (IN)", "7.", "17.", dashed("black", 3, 5, 3));
swatch(660, 449, 664, 107, "#d2691e", "Mud cake");
swatch(660, 449, 793, 108, "#00ffff", "Washout");

legendRow(5, 0, "RLA1 (OHMM)", "0.2", "200.", solid("#0000ff"));
legendRow(5, 1, "RLA2 (OHMM)", "0.2", "200.", solid("#008000"));
legendRow(5, 2, "RLA3 (OHMM)", "0.2", "200.", solid("#ffa500"));
legendRow(5, 3, "RLA4 (OHMM)", "0.2", "200.", solid("#ff00ff"));
legendRow(5, 4, "RLA5 (OHMM)", "0.2", "200.", solid("red"));
legendRow(5, 5, "RXOZ (OHMM)", "0.2", "200.", solid("black"));

legendRow(6, 0, "TNPH (V/V)", "0.45", "-0.15", solid("#000080"));
legendRow(6, 1, "RHOZ (G/C3)", "1.95", "2.95", solid("red"));
legendRow(6, 2, "PEFZ (B/E)", "0.", "10.", dashed("#800080", 5, 7, 4));

legendRow(7, 0, "TNPH_ss (V/V)", "0.6", "0.", solid("#000080"));
legendRow(7, 1, "RHOZ (G/C3)", "1.65", "2.65", solid("red"));
swatch(2193, 450, 404, 108, "#00ff7f", "Shale");
swatch(2193, 450, 535, 107, "#ffff00", "Gas effect");

legendRow(8, 0, "DTCO (US/FT)", "240.", "40.", solid("#ff00ff"));

title(9, 167, "PRES (PSIA)");
add("scale", "left:" + edges[8] + "px;width:" + (edges[9] - edges[8]) + "px;top:187px;",
    "<span>1600</span><div class='dots'><i></i><i></i><i></i></div><span>1800</span>");
</script>
</body>
</html>
